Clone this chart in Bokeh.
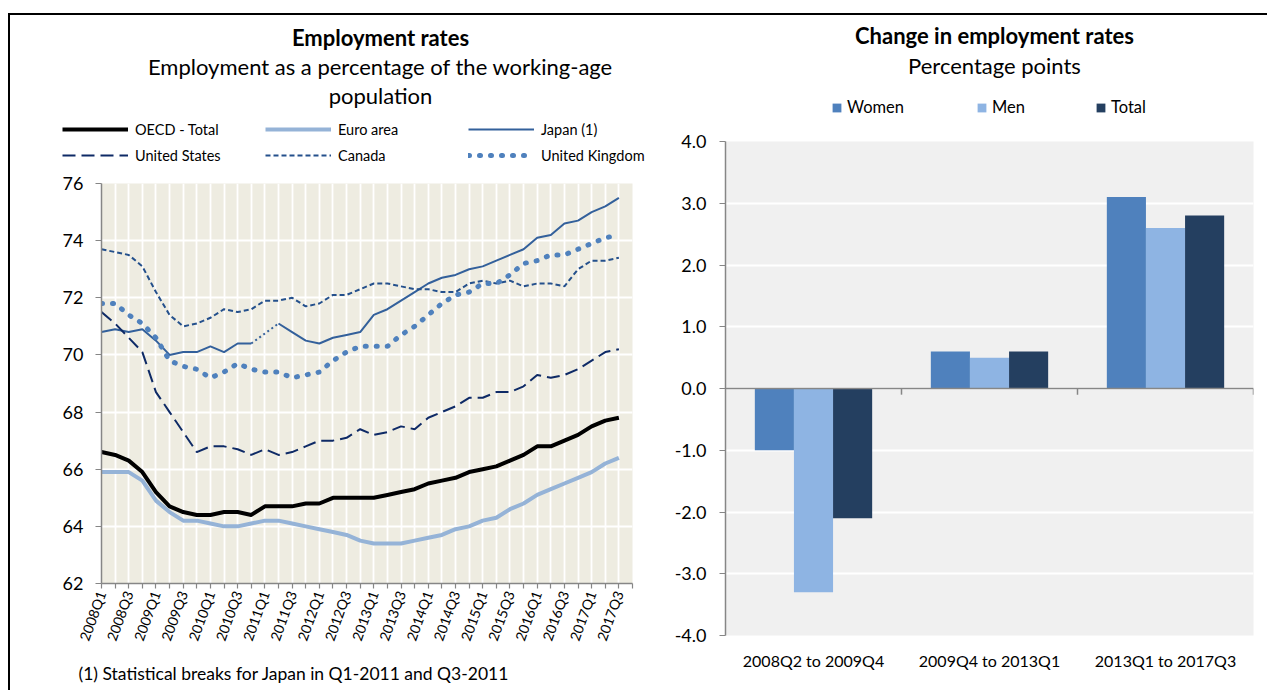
from bokeh.plotting import figure
from bokeh.models import (Range1d, FixedTicker, Label, Legend, LegendItem, Span,
                          NumeralTickFormatter, Div)
from bokeh.layouts import row, column
from bokeh.embed import file_html
from bokeh.resources import INLINE

# ---------------- data ----------------
quarters = [f"{y}Q{q}" for y in range(2008, 2018) for q in range(1, 5)]

oecd = [66.6, 66.5, 66.3, 65.9, 65.2, 64.7, 64.5, 64.4, 64.4, 64.5,
        64.5, 64.4, 64.7, 64.7, 64.7, 64.8, 64.8, 65.0, 65.0, 65.0,
        65.0, 65.1, 65.2, 65.3, 65.5, 65.6, 65.7, 65.9, 66.0, 66.1,
        66.3, 66.5, 66.8, 66.8, 67.0, 67.2, 67.5, 67.7, 67.8]
euro = [65.9, 65.9, 65.9, 65.6, 64.9, 64.5, 64.2, 64.2, 64.1, 64.0,
        64.0, 64.1, 64.2, 64.2, 64.1, 64.0, 63.9, 63.8, 63.7, 63.5,
        63.4, 63.4, 63.4, 63.5, 63.6, 63.7, 63.9, 64.0, 64.2, 64.3,
        64.6, 64.8, 65.1, 65.3, 65.5, 65.7, 65.9, 66.2, 66.4]
japan = [70.8, 70.9, 70.8, 70.9, 70.5, 70.0, 70.1, 70.1, 70.3, 70.1,
         70.4, 70.4, 70.75, 71.1, 70.8, 70.5, 70.4, 70.6, 70.7, 70.8,
         71.4, 71.6, 71.9, 72.2, 72.5, 72.7, 72.8, 73.0, 73.1, 73.3,
         73.5, 73.7, 74.1, 74.2, 74.6, 74.7, 75.0, 75.2, 75.5]
us = [71.5, 71.1, 70.6, 70.1, 68.7, 68.0, 67.3, 66.6, 66.8, 66.8,
      66.7, 66.5, 66.7, 66.5, 66.6, 66.8, 67.0, 67.0, 67.1, 67.4,
      67.2, 67.3, 67.5, 67.4, 67.8, 68.0, 68.2, 68.5, 68.5, 68.7,
      68.7, 68.9, 69.3, 69.2, 69.3, 69.5, 69.8, 70.1, 70.2]
canada = [73.7, 73.6, 73.5, 73.1, 72.2, 71.4, 71.0, 71.1, 71.3, 71.6,
          71.5, 71.6, 71.9, 71.9, 72.0, 71.7, 71.8, 72.1, 72.1, 72.3,
          72.5, 72.5, 72.4, 72.3, 72.3, 72.2, 72.2, 72.5, 72.6, 72.5,
          72.6, 72.4, 72.5, 72.5, 72.4, 73.0, 73.3, 73.3, 73.4]
uk = [71.8, 71.8, 71.4, 71.1, 70.6, 69.8, 69.6, 69.5, 69.2, 69.4,
      69.7, 69.5, 69.4, 69.4, 69.2, 69.3, 69.4, 69.8, 70.1, 70.3,
      70.3, 70.3, 70.7, 71.0, 71.4, 71.8, 72.1, 72.2, 72.5, 72.5,
      72.8, 73.2, 73.3, 73.5, 73.5, 73.7, 73.9, 74.1, 74.2]
japan_break = (11, 13)  # dotted segment (statistical breaks)

y_ticks_left = [62, 64, 66, 68, 70, 72, 74, 76]

periods = ["2008Q2 to 2009Q4", "2009Q4 to 2013Q1", "2013Q1 to 2017Q3"]
women = [-1.0, 0.6, 3.1]
men = [-3.3, 0.5, 2.6]
total = [-2.1, 0.6, 2.8]
y_ticks_right = [-4, -3, -2, -1, 0, 1, 2, 3, 4]

# ---------------- style ----------------
FONT = "Lato"
GRAY = "#868686"
C_OECD, C_EURO, C_JAP, C_US, C_CAN, C_UK = "black", "#95B3D7", "#33609B", "#0E2A66", "#24508C", "#4F81BD"
C_W, C_M, C_T = "#4F81BD", "#8EB4E3", "#243F60"
NAN = float("nan")

def no_align(fig):
    try:
        fig.frame_align = False
    except Exception:
        pass

def blank(width, height):
    h = figure(width=width, height=height, x_range=Range1d(0, width), y_range=Range1d(0, height),
               output_backend="svg", toolbar_location=None, min_border=0,
               x_axis_location=None, y_axis_location=None)
    h.xgrid.grid_line_color = None
    h.ygrid.grid_line_color = None
    h.outline_line_color = None
    h.background_fill_color = "white"
    h.border_fill_color = "white"
    no_align(h)
    return h

def txt(h, left, top, height, px, py, text, size, bold=False, align="center"):
    h.add_layout(Label(x=px - left, y=height - (py - top), x_units="screen", y_units="screen",
                       text=text, text_align=align, text_baseline="middle",
                       text_font=FONT, text_font_size=f"{size}px",
                       text_font_style="bold" if bold else "normal",
                       text_color="black"))

def leg(h, renderer, label, lx, ly, gw, gh, size, standoff, lh):
    lg = Legend(items=[LegendItem(label=label, renderers=[renderer])],
                location=(lx, ly), orientation="horizontal",
                glyph_width=gw, glyph_height=gh, label_height=lh,
                label_standoff=standoff, padding=0, margin=0, spacing=0,
                border_line_color=None, background_fill_alpha=0,
                label_text_font=FONT, label_text_font_size=f"{size}px",
                label_text_color="black")
    h.add_layout(lg)

# ---------------- left chart ----------------
L1 = 10
n = len(quarters)
xs = list(range(len(oecd)))

H1_TOP, H1_H = 15, 156
h1 = blank(650, H1_H)
txt(h1, L1, H1_TOP, H1_H, 380, 37, "Employment rates", 22, bold=True)
txt(h1, L1, H1_TOP, H1_H, 380, 66, "Employment as a percentage of the working-age", 22)
txt(h1, L1, H1_TOP, H1_H, 380, 95, "population", 22)
leg_styles = [
    ("OECD - Total", dict(line_color=C_OECD, line_width=4), 62, 129),
    ("Euro area", dict(line_color=C_EURO, line_width=4), 265, 129),
    ("Japan (1)", dict(line_color=C_JAP, line_width=2), 468, 129),
    ("United States", dict(line_color=C_US, line_width=2, line_dash="13 6"), 62, 155),
    ("Canada", dict(line_color=C_CAN, line_width=2, line_dash="5 3"), 265, 155),
    ("United Kingdom", dict(line_color=C_UK, line_width=5, line_dash="1 10", line_cap="round"), 468, 155),
]
for lab, st, cx, cy in leg_styles:
    dummy = h1.line(x=[NAN], y=[NAN], **st)
    leg(h1, dummy, lab, cx - L1, H1_H - (cy + 10 - H1_TOP), 66, 20, 14.5, 7, 20)

p1 = figure(width=650, height=489, x_range=Range1d(0, n - 1), y_range=Range1d(62, 76),
            output_backend="svg", toolbar_location=None,
            min_border_left=91, min_border_right=28, min_border_top=12, min_border_bottom=77)
no_align(p1)
p1.background_fill_color = "#EEECE1"
p1.border_fill_color = "white"
p1.outline_line_color = None

p1.xaxis.ticker = FixedTicker(ticks=list(range(n)))
p1.xaxis.major_label_overrides = {i: (q if i % 2 == 0 else "") for i, q in enumerate(quarters)}
p1.xaxis.major_label_orientation = 1.22
p1.xaxis.major_label_standoff = 3
p1.xaxis.major_label_text_font = FONT
p1.xaxis.major_label_text_font_size = "14px"
p1.xaxis.major_label_text_color = "black"
p1.xaxis.minor_tick_line_color = None
p1.xaxis.major_tick_in = 0
p1.xaxis.major_tick_out = 5
p1.xaxis.axis_line_color = GRAY
p1.xaxis.axis_line_width = 1.5
p1.xaxis.major_tick_line_color = GRAY
p1.xaxis.major_tick_line_width = 1.2

p1.yaxis.ticker = FixedTicker(ticks=y_ticks_left)
p1.yaxis.major_label_text_font = FONT
p1.yaxis.major_label_text_font_size = "18px"
p1.yaxis.major_label_text_color = "black"
p1.yaxis.major_label_standoff = 12
p1.yaxis.minor_tick_line_color = None
p1.yaxis.major_tick_in = 0
p1.yaxis.major_tick_out = 6
p1.yaxis.axis_line_color = GRAY
p1.yaxis.axis_line_width = 1.5
p1.yaxis.major_tick_line_color = GRAY
p1.yaxis.major_tick_line_width = 1.2

p1.xgrid.grid_line_color = "white"
p1.xgrid.grid_line_width = 1.8
p1.ygrid.grid_line_color = "white"
p1.ygrid.grid_line_width = 2

p1.line(xs, oecd, line_color=C_OECD, line_width=4, line_join="round")
p1.line(xs, euro, line_color=C_EURO, line_width=4, line_join="round")
b0, b1 = japan_break
p1.line(xs[:b0 + 1], japan[:b0 + 1], line_color=C_JAP, line_width=2)
p1.line(xs[b0:b1 + 1], japan[b0:b1 + 1], line_color=C_JAP, line_width=2, line_dash="2 3")
p1.line(xs[b1:], japan[b1:], line_color=C_JAP, line_width=2)
p1.line(xs, us, line_color=C_US, line_width=2, line_dash="13 6")
p1.line(xs, canada, line_color=C_CAN, line_width=2, line_dash="5 3")
p1.line(xs, uk, line_color=C_UK, line_width=5, line_dash="1 10", line_cap="round")

F1_TOP, F1_H = 660, 30
f1 = blank(650, F1_H)
txt(f1, L1, F1_TOP, F1_H, 78, 673, "(1) Statistical breaks for Japan in Q1-2011 and Q3-2011", 17.5, align="left")

left_col = column(h1, p1, f1)

# ---------------- right chart ----------------
L2 = 660
m = len(periods)
H2_TOP, H2_H = 15, 115
h2 = blank(607, H2_H)
txt(h2, L2, H2_TOP, H2_H, 994, 35, "Change in employment rates", 22, bold=True)
txt(h2, L2, H2_TOP, H2_H, 994, 65, "Percentage points", 22)
for lab, col, sx in [("Women", C_W, 831), ("Men", C_M, 976), ("Total", C_T, 1095)]:
    dummy = h2.vbar(x=[NAN], top=[NAN], width=0.5, fill_color=col, line_color=None)
    leg(h2, dummy, lab, sx - L2, H2_H - (108 + 9 - H2_TOP), 11, 11, 16.5, 5, 18)

p2 = figure(width=607, height=560, x_range=Range1d(0, m), y_range=Range1d(-4, 4),
            output_backend="svg", toolbar_location=None,
            min_border_left=65, min_border_right=14, min_border_top=11, min_border_bottom=55)
no_align(p2)
p2.background_fill_color = "#F0F0F0"
p2.border_fill_color = "white"
p2.outline_line_color = None

centers = [i + 0.5 for i in range(m)]
bw = 1 / 4.5
p2.vbar(x=[c - bw for c in centers], top=women, width=bw, bottom=0, fill_color=C_W, line_color=None)
p2.vbar(x=centers, top=men, width=bw, bottom=0, fill_color=C_M, line_color=None)
p2.vbar(x=[c + bw for c in centers], top=total, width=bw, bottom=0, fill_color=C_T, line_color=None)

p2.xaxis.ticker = FixedTicker(ticks=centers)
p2.xaxis.major_label_overrides = {c: lab for c, lab in zip(centers, periods)}
p2.xaxis.axis_line_color = None
p2.xaxis.major_tick_line_color = None
p2.xaxis.minor_tick_line_color = None
p2.xaxis.major_label_standoff = 9
p2.xaxis.major_label_text_font = FONT
p2.xaxis.major_label_text_font_size = "16px"
p2.xaxis.major_label_text_color = "black"

p2.yaxis.ticker = FixedTicker(ticks=y_ticks_right)
p2.yaxis.formatter = NumeralTickFormatter(format="0.0")
p2.yaxis.major_label_text_font = FONT
p2.yaxis.major_label_text_font_size = "18px"
p2.yaxis.major_label_text_color = "black"
p2.yaxis.major_label_standoff = 13
p2.yaxis.minor_tick_line_color = None
p2.yaxis.major_tick_in = 0
p2.yaxis.major_tick_out = 6
p2.yaxis.axis_line_color = GRAY
p2.yaxis.axis_line_width = 1.5
p2.yaxis.major_tick_line_color = GRAY
p2.yaxis.major_tick_line_width = 1.2

p2.xgrid.grid_line_color = None
p2.ygrid.grid_line_color = "white"
p2.ygrid.grid_line_width = 2

p2.add_layout(Span(location=0, dimension="width", line_color=GRAY, line_width=1.5))
bounds = list(range(1, m + 1))
p2.segment(x0=bounds, y0=[0] * m, x1=bounds, y1=[-0.1] * m, line_color=GRAY, line_width=1.5)

right_col = column(h2, p2)

# ---------------- page ----------------
def pad(w, h, color=None):
    kw = dict(styles={"background-color": color}) if color else {}
    return Div(text="", width=w, height=h, margin=0, **kw)

layout = column(
    pad(1267, 13),
    row(pad(8, 2), pad(1259, 2, "black")),
    row(pad(8, 675), pad(2, 675, "black"), left_col, right_col),
)

open("out.html", "w").write(file_html(layout, INLINE))
